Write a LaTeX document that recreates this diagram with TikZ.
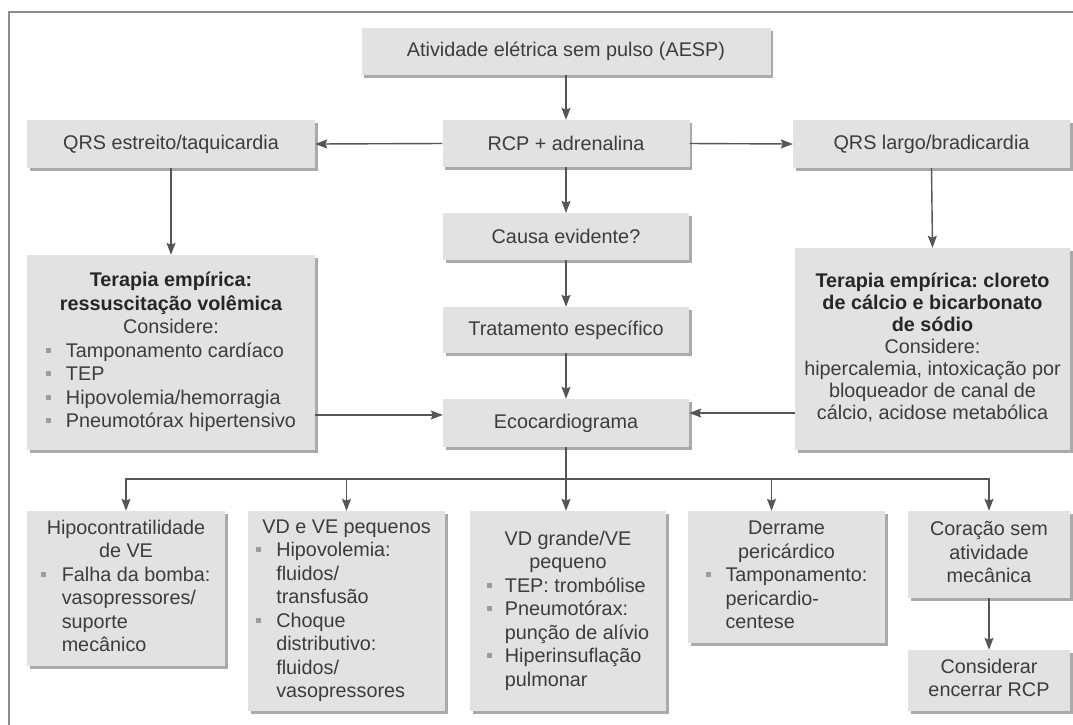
\documentclass[tikz,border=0pt]{standalone}
\usepackage{fontspec}
\setmainfont{Liberation Sans}
\usetikzlibrary{shadows,arrows.meta}
\definecolor{boxfill}{HTML}{E2E2E2}
\definecolor{shade}{HTML}{AAAAAA}
\definecolor{txt}{HTML}{3C3C3C}
\definecolor{btxt}{HTML}{262626}
\definecolor{arr}{HTML}{555555}
\definecolor{bulc}{HTML}{9C9C9C}
\definecolor{framec}{HTML}{8C8C8C}
\newcommand\bul{\textcolor{bulc}{\rule[4.7pt]{5pt}{5pt}}}
\newcommand\hd[1]{\multicolumn{2}{c}{#1}}
\newcommand\bh[1]{\multicolumn{1}{c}{\bfseries\color{btxt}#1}}
\tikzset{
  box/.style={fill=boxfill, inner sep=0pt, text=txt, align=center,
    general shadow={fill=shade, shadow xshift=2.5pt, shadow yshift=-2.5pt},
    font=\fontsize{19.8}{23.5}\selectfont},
  conn/.style={draw=arr, line width=1.4pt, -{Stealth[length=12pt,width=9pt,inset=2pt]}},
  wire/.style={draw=arr, line width=1.4pt},
}
\begin{document}
\frenchspacing
\begin{tikzpicture}[x=1pt,y=-1pt]
\useasboundingbox (0,0) rectangle (1073,724);
\fill[white] (0,0) rectangle (1073,724);
\draw[framec, line width=1.2pt] (9,730) -- (9,12) -- (1080,12);

% top and centre column
\node[box, minimum width=409pt, minimum height=47pt] (aesp) at (566,51.5) {Atividade elétrica sem pulso (AESP)};
\node[box, minimum width=247pt, minimum height=47pt] (rcp) at (566,143.5) {RCP + adrenalina};
\node[box, minimum width=288pt, minimum height=48pt] (qrse) at (171,144) {QRS estreito/taquicardia};
\node[box, minimum width=277pt, minimum height=48pt] (qrsl) at (931.5,144) {QRS largo/bradicardia};
\node[box, minimum width=246pt, minimum height=47pt] (causa) at (566,236.5) {Causa evidente?};
\node[box, minimum width=246pt, minimum height=46pt] (trat) at (566,330) {Tratamento específico};
\node[box, minimum width=246pt, minimum height=48pt] (eco) at (566,423) {Ecocardiograma};

% side therapy boxes
\node[box, minimum width=288pt, minimum height=195pt] (terl) at (171,352.5) {%
\begin{tabular}{@{}c@{\hspace{15pt}}l@{}}
\hd{\bfseries\color{btxt}Terapia empírica:}\\
\hd{\bfseries\color{btxt}ressuscitação volêmica}\\
\hd{Considere:}\\
\bul & Tamponamento cardíaco\\
\bul & TEP\\
\bul & Hipovolemia/hemorragia\\
\bul & Pneumotórax hipertensivo
\end{tabular}};
\node[box, minimum width=275pt, minimum height=202pt, font=\fontsize{19.8}{22}\selectfont] (terr) at (932.5,349) {%
\begin{tabular}{@{}c@{}}
\bh{Terapia empírica: cloreto}\\
\bh{de cálcio e bicarbonato}\\
\bh{de sódio}\\
Considere:\\
hipercalemia, intoxicação por\\
bloqueador de canal de\\
cálcio, acidose metabólica
\end{tabular}};

% bottom row
\node[box, minimum width=198pt, minimum height=155pt] (b1) at (126,588.5) {%
\begin{tabular}{@{}c@{\hspace{16pt}}l@{}}
\hd{Hipocontratilidade}\\
\hd{de VE}\\
\bul & Falha da bomba:\\
 & vasopressores/\\
 & suporte\\
 & mecânico
\end{tabular}};
\node[box, minimum width=197pt, minimum height=200pt] (b2) at (346.5,611) {%
\begin{tabular}{@{}c@{\hspace{15pt}}l@{}}
\hd{VD e VE pequenos}\\
\bul & Hipovolemia:\\
 & fluidos/\\
 & transfusão\\
\bul & Choque\\
 & distributivo:\\
 & fluidos/\\
 & vasopressores
\end{tabular}};
\node[box, minimum width=196pt, minimum height=200pt] (b3) at (568,611) {%
\begin{tabular}{@{}c@{\hspace{13pt}}l@{}}
\hd{VD grande/VE}\\
\hd{pequeno}\\
\bul & TEP: trombólise\\
\bul & Pneumotórax:\\
 & punção de alívio\\
\bul & Hiperinsuflação\\
 & pulmonar
\end{tabular}};
\node[box, minimum width=197pt, minimum height=132pt] (b4) at (786.5,577) {%
\begin{tabular}{@{}c@{\hspace{15pt}}l@{}}
\hd{Derrame}\\
\hd{pericárdico}\\
\bul & Tamponamento:\\
 & pericardio-\\
 & centese
\end{tabular}};
\node[box, minimum width=162pt, minimum height=87pt] (b5) at (989,554.5) {%
\begin{tabular}{@{}c@{}}
Coração sem\\
atividade\\
mecânica
\end{tabular}};
\node[box, minimum width=162pt, minimum height=61pt] (b6) at (989,680.5) {%
\begin{tabular}{@{}c@{}}
Considerar\\
encerrar RCP
\end{tabular}};

% connectors
\draw[conn] (aesp.south) -- (rcp.north);
\draw[conn] (rcp.west) -- (qrse.east);
\draw[conn] (rcp.east) -- (qrsl.west);
\draw[conn] (qrse.south) -- (terl.north);
\draw[conn] (qrsl.south) -- (terr.north);
\draw[conn] (rcp.south) -- (causa.north);
\draw[conn] (causa.south) -- (trat.north);
\draw[conn] (trat.south) -- (eco.north);
\coordinate (ecoinl) at ([yshift=8pt]eco.west);
\coordinate (ecoinr) at ([yshift=10pt]eco.east);
\draw[conn] (terl.east |- ecoinl) -- (ecoinl);
\draw[conn] (terr.west |- ecoinr) -- (ecoinr);
\coordinate (bus) at (566,479);
\draw[wire] (eco.south) -- (bus);
\draw[conn] (bus) -| (b1.north);
\draw[conn] (bus) -| (b2.north);
\draw[conn] (bus) -- (bus |- b3.north);
\coordinate (b4in) at ([xshift=-15pt]b4.north);
\draw[conn] (bus) -| (b4in);
\draw[conn] (bus) -| (b5.north);
\draw[conn] (b5.south) -- (b6.north);
\end{tikzpicture}
\end{document}
